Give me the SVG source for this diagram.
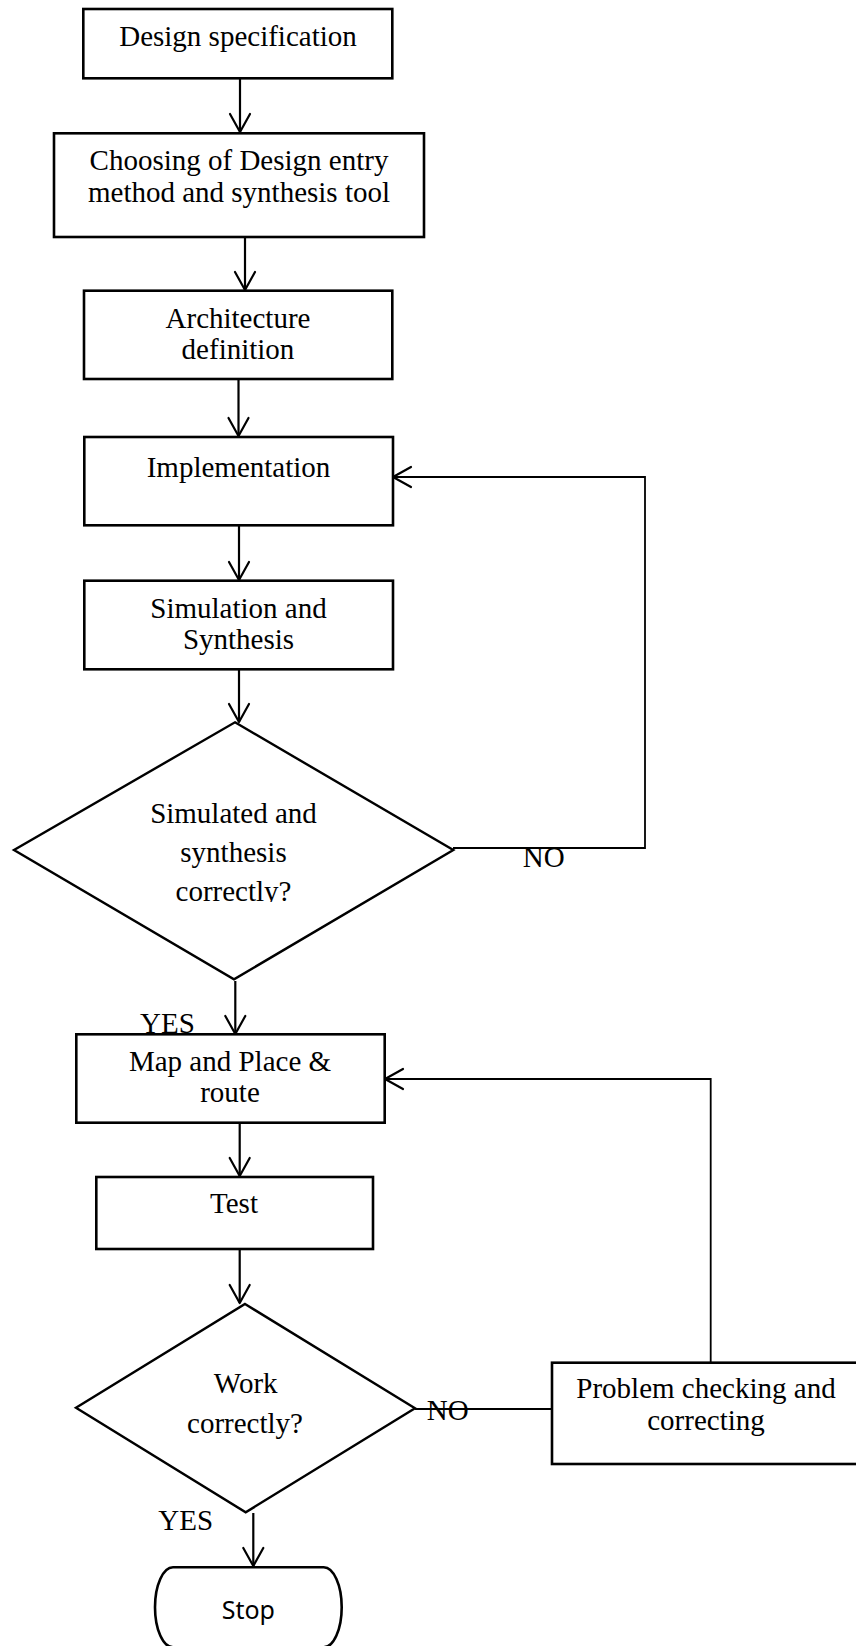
<svg xmlns="http://www.w3.org/2000/svg" width="856" height="1646" viewBox="0 0 856 1646">
<style>
.box{fill:#fff;stroke:#000;stroke-width:2.6}
.dia{fill:#fff;stroke:#000;stroke-width:2.4}
.t{font-family:"Liberation Serif","Times New Roman",serif;font-size:29px;fill:#000;text-anchor:middle}
.lbl{font-family:"Liberation Serif","Times New Roman",serif;font-size:29px;fill:#000}
.s{font-family:"Noto Sans","Open Sans",sans-serif;font-size:25px;fill:#000;text-anchor:middle}
.c{fill:none;stroke:#000;stroke-width:2.2}
.c2{fill:none;stroke:#000;stroke-width:1.8}
</style>
<defs>
<marker id="ah" markerUnits="userSpaceOnUse" viewBox="-22 -13 24 26" refX="0" refY="0" markerWidth="24" markerHeight="26" orient="auto">
<path d="M-18,-10 L0,0 L-18,10" fill="none" stroke="#000" stroke-width="2.2" stroke-linecap="round" stroke-linejoin="round"/>
</marker>
<clipPath id="clipD1"><rect x="0" y="700" width="500" height="202"/></clipPath>
</defs>
<rect width="856" height="1646" fill="#fff"/>

<g id="connectors">
<line class="c" x1="240" y1="78" x2="240" y2="132" marker-end="url(#ah)"/>
<line class="c" x1="245" y1="237" x2="245" y2="290" marker-end="url(#ah)"/>
<line class="c" x1="238.5" y1="379" x2="238.5" y2="436" marker-end="url(#ah)"/>
<line class="c" x1="239" y1="525" x2="239" y2="580" marker-end="url(#ah)"/>
<line class="c" x1="239" y1="669" x2="239" y2="722" marker-end="url(#ah)"/>
<line class="c" x1="235.3" y1="981" x2="235.3" y2="1034" marker-end="url(#ah)"/>
<line class="c" x1="239.7" y1="1123" x2="239.7" y2="1176" marker-end="url(#ah)"/>
<line class="c" x1="239.7" y1="1249" x2="239.7" y2="1303" marker-end="url(#ah)"/>
<line class="c" x1="253.3" y1="1513" x2="253.3" y2="1566" marker-end="url(#ah)"/>
<polyline class="c2" points="453,848 645,848 645,477 393,477" marker-end="url(#ah)"/>
<line class="c2" x1="415" y1="1409" x2="552" y2="1409"/>
<polyline class="c2" points="710.7,1363 710.7,1079 385,1079" marker-end="url(#ah)"/>
<text class="lbl" x="522.7" y="867">NO</text>
<text class="lbl" x="140" y="1033">YES</text>
<text class="lbl" x="426.7" y="1420">NO</text>
<text class="lbl" x="158.3" y="1530">YES</text>
</g>

<g id="design-spec">
<rect class="box" x="83.3" y="9" width="309" height="69.3"/>
<text class="t" x="238" y="45.5">Design specification</text>
</g>

<g id="choosing">
<rect class="box" x="54" y="133.3" width="370" height="103.7"/>
<text class="t" x="239" y="170">Choosing of Design entry</text>
<text class="t" x="239" y="201.7">method and synthesis tool</text>
</g>

<g id="architecture">
<rect class="box" x="84" y="290.7" width="308.3" height="88.3"/>
<text class="t" x="238" y="328.3">Architecture</text>
<text class="t" x="238" y="359.3">definition</text>
</g>

<g id="implementation">
<rect class="box" x="84.3" y="437" width="308.7" height="88.3"/>
<text class="t" x="238.5" y="477.3">Implementation</text>
</g>

<g id="simulation">
<rect class="box" x="84.3" y="580.7" width="308.7" height="88.6"/>
<text class="t" x="238.5" y="617.7">Simulation and</text>
<text class="t" x="238.5" y="649.3">Synthesis</text>
</g>

<g id="decision-sim">
<polygon class="dia" points="235,722.3 453.3,850 234,979.3 14,850"/>
<g clip-path="url(#clipD1)">
<text class="t" x="233.5" y="823.3">Simulated and</text>
<text class="t" x="233.5" y="861.7">synthesis</text>
<text class="t" x="233.5" y="900.5">correctly?</text>
</g>
</g>

<g id="map-place-route">
<rect class="box" x="76.3" y="1034.3" width="308.4" height="88.4"/>
<text class="t" x="230" y="1071">Map and Place &amp;</text>
<text class="t" x="230" y="1102.3">route</text>
</g>

<g id="test">
<rect class="box" x="96.3" y="1177" width="276.7" height="72"/>
<text class="t" x="234" y="1213.3">Test</text>
</g>

<g id="decision-work">
<polygon class="dia" points="245,1304 415,1408.3 245.7,1512.3 76,1407.7"/>
<text class="t" x="245.7" y="1393.3">Work</text>
<text class="t" x="245" y="1432.7">correctly?</text>
</g>

<g id="problem-checking">
<rect class="box" x="552" y="1362.7" width="320" height="101.3"/>
<text class="t" x="706" y="1398.3">Problem checking and</text>
<text class="t" x="706" y="1430">correcting</text>
</g>

<g id="stop">
<rect class="box" x="155" y="1567.3" width="186.7" height="80" rx="18" ry="40"/>
<text class="s" x="248.3" y="1619">Stop</text>
</g>
</svg>
